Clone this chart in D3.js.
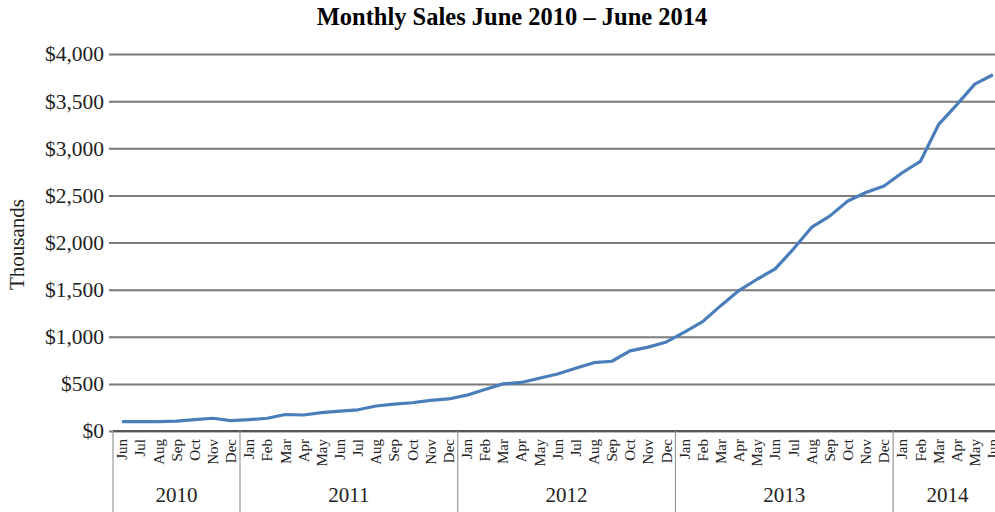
<!DOCTYPE html>
<html>
<head>
<meta charset="utf-8">
<script src="https://cdn.jsdelivr.net/npm/d3@7"></script>
<style>
  body { margin: 0; background: #fff; }
  svg { display: block; }
  text { font-family: "Liberation Serif", "Times New Roman", serif; fill: #222; }
</style>
</head>
<body>
<svg id="chart" width="995" height="512"></svg>
<script>
// months Jun 2010 - Jun 2014, sales in thousands of dollars
var years = ["2010", "2011", "2012", "2013", "2014"];
var monthsPerYear = [7, 12, 12, 12, 6];
var months = ["Jun","Jul","Aug","Sep","Oct","Nov","Dec",
  "Jan","Feb","Mar","Apr","May","Jun","Jul","Aug","Sep","Oct","Nov","Dec",
  "Jan","Feb","Mar","Apr","May","Jun","Jul","Aug","Sep","Oct","Nov","Dec",
  "Jan","Feb","Mar","Apr","May","Jun","Jul","Aug","Sep","Oct","Nov","Dec",
  "Jan","Feb","Mar","Apr","May","Jun"];
var sales = [100, 100, 100, 105, 120, 135, 110,
  120, 135, 175, 170, 195, 210, 225, 265, 285, 300, 325, 340,
  380, 440, 500, 515, 560, 605, 665, 725, 740, 850, 890, 945,
  1050, 1160, 1330, 1490, 1610, 1720, 1930, 2160, 2280, 2440, 2530, 2600,
  2740, 2860, 3250, 3460, 3680, 3780];
var yTicks = [0, 500, 1000, 1500, 2000, 2500, 3000, 3500, 4000];

var svg = d3.select("#chart");
var plotLeft = 113, plotRight = 1002, plotTop = 54, plotBase = 431;

var x = d3.scaleBand().domain(d3.range(months.length)).range([plotLeft, plotRight]);
var y = d3.scaleLinear().domain([0, 4000]).range([plotBase, plotTop]);

// title
svg.append("text")
  .attr("x", 512).attr("y", 25)
  .attr("text-anchor", "middle")
  .style("font-size", "24.5px").style("font-weight", "bold").style("fill", "#000")
  .text("Monthly Sales June 2010 \u2013 June 2014");

// gridlines + y labels
var yAxis = svg.append("g").attr("transform", "translate(" + plotLeft + ",0)")
  .call(d3.axisLeft(y).tickValues(yTicks).tickSize(-(plotRight - plotLeft)).tickPadding(9)
    .tickFormat(function(d) { return "$" + d3.format(",")(d); }));
yAxis.select(".domain").remove();
yAxis.selectAll(".tick line")
  .attr("x1", -4)
  .attr("stroke", "#7a7a7a").attr("stroke-width", 2);
yAxis.selectAll(".tick text")
  .style("font-size", "21.5px").style("font-family", "Liberation Serif, serif").style("fill", "#222");

svg.append("text")
  .attr("transform", "translate(24," + ((plotTop + plotBase) / 2 + 2) + ") rotate(-90)")
  .attr("text-anchor", "middle")
  .style("font-size", "21px")
  .text("Thousands");

// x axis line
svg.append("line")
  .attr("x1", plotLeft).attr("x2", plotRight)
  .attr("y1", plotBase).attr("y2", plotBase)
  .attr("stroke", "#555").attr("stroke-width", 2);

// month labels
svg.append("g").selectAll("text")
  .data(months)
  .join("text")
  .attr("transform", function(d, i) {
    return "translate(" + (x(i) + x.bandwidth() / 2) + "," + (plotBase + 8) + ") rotate(-90)";
  })
  .attr("text-anchor", "end")
  .attr("dy", "0.35em")
  .style("font-size", "15px")
  .text(function(d) { return d; });

// year groups
var starts = [0];
monthsPerYear.forEach(function(n, i) { starts.push(starts[i] + n); });
svg.append("g").selectAll("line")
  .data(starts)
  .join("line")
  .attr("x1", function(s) { return s < months.length ? x(s) : plotRight; })
  .attr("x2", function(s) { return s < months.length ? x(s) : plotRight; })
  .attr("y1", plotBase).attr("y2", 512)
  .attr("stroke", "#999").attr("stroke-width", 1.2);

svg.append("g").selectAll("text")
  .data(years)
  .join("text")
  .attr("x", function(d, i) {
    var a = x(starts[i]);
    var b = starts[i + 1] < months.length ? x(starts[i + 1]) : plotRight;
    return (a + b) / 2;
  })
  .attr("y", 502)
  .attr("text-anchor", "middle")
  .style("font-size", "21px")
  .text(function(d) { return d; });

// sales line
var line = d3.line()
  .x(function(d, i) { return x(i) + x.bandwidth() / 2; })
  .y(function(d) { return y(d); });

svg.append("path")
  .datum(sales)
  .attr("d", line)
  .attr("fill", "none")
  .attr("stroke", "#4a7ebb")
  .attr("stroke-width", 3.2)
  .attr("stroke-linejoin", "round");
</script>
</body>
</html>
